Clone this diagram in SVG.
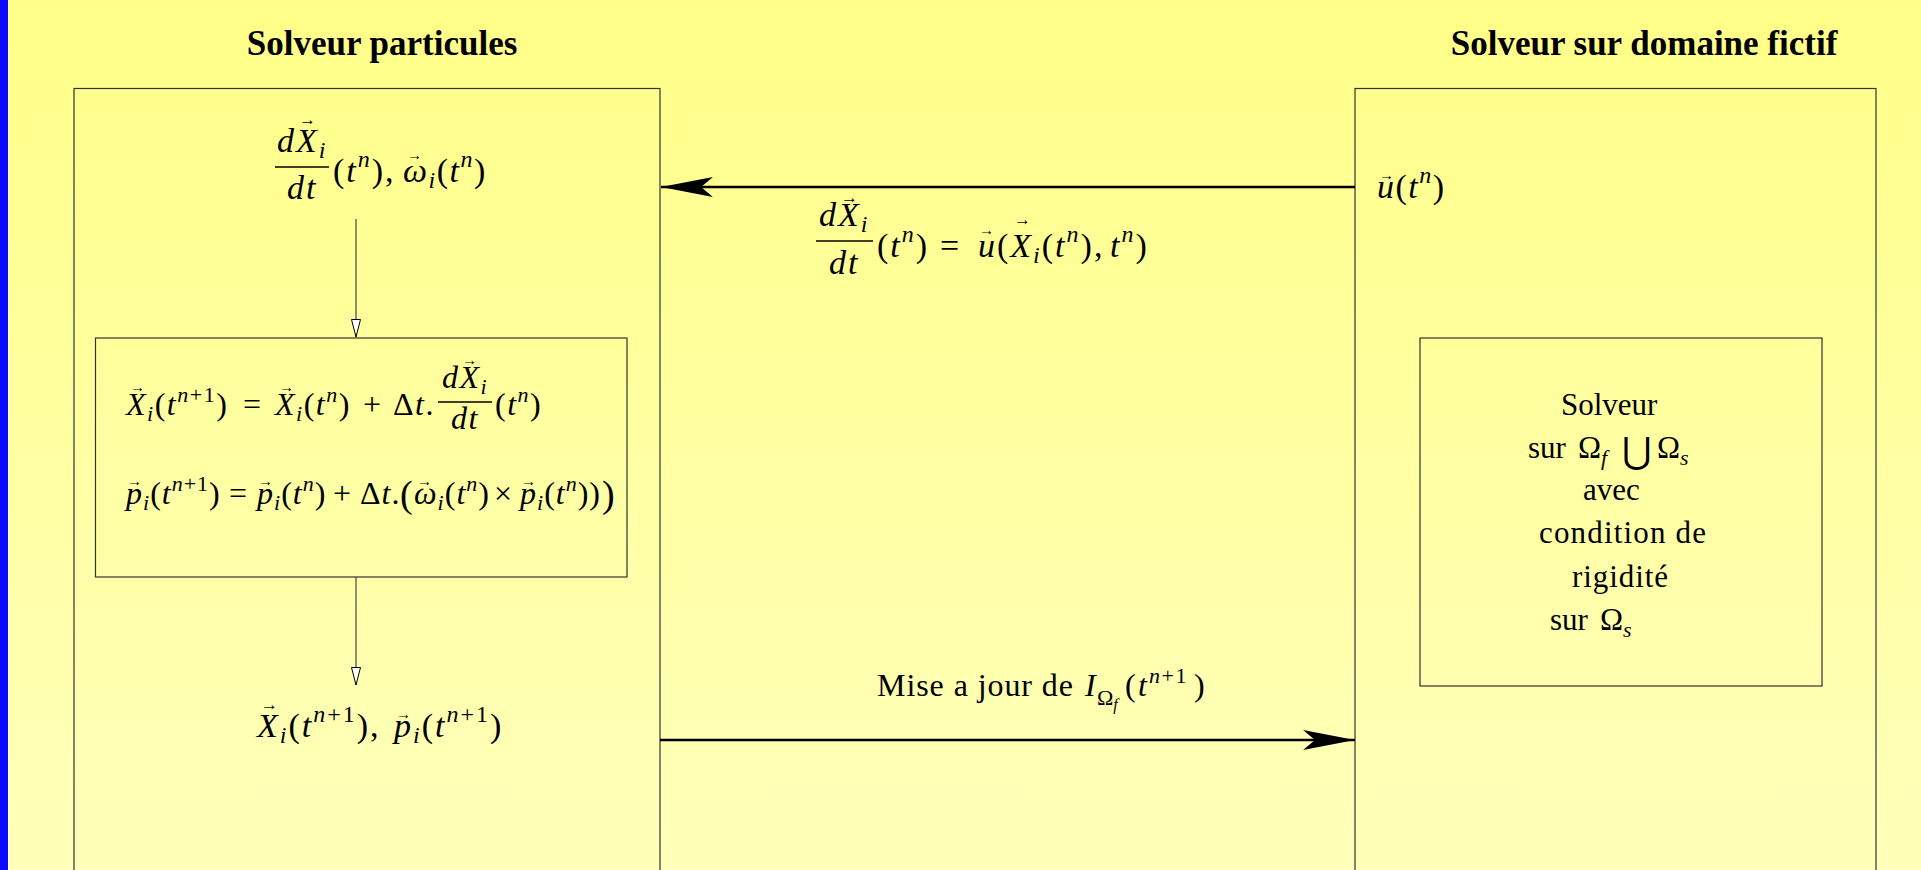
<svg xmlns="http://www.w3.org/2000/svg" width="1921" height="870" viewBox="0 0 1921 870">
<defs>
<linearGradient id="bg" x1="0" y1="0" x2="0" y2="1">
<stop offset="0" stop-color="#ffff88"/>
<stop offset="1" stop-color="#ffffbb"/>
</linearGradient>
<marker id="big" viewBox="0 0 52 22" refX="52" refY="11" markerWidth="52" markerHeight="22" markerUnits="userSpaceOnUse" orient="auto">
<path d="M0,1 L52,11 L0,21 L12,11 Z" fill="#000"/>
</marker>
<marker id="hollow" viewBox="0 0 19 11" refX="18" refY="5.5" markerWidth="19" markerHeight="11" markerUnits="userSpaceOnUse" orient="auto">
<path d="M0.5,1 L18,5.5 L0.5,10 Z" fill="#fff" stroke="#000" stroke-width="1"/>
</marker>
<style>
text{font-family:"Liberation Serif","DejaVu Serif",serif;fill:#000}
.t{font-weight:bold;font-size:35px;text-anchor:middle}
.i{font-style:italic}
.f34{font-size:34px;letter-spacing:2px}
.s24{font-size:24px}
.f32{font-size:32px;letter-spacing:1.5px}
.g32{font-size:32px;letter-spacing:1px}
.s22{font-size:22px}
.f31{font-size:31px}
.m32{font-size:32px}
.s16{font-size:16px}
.v{font-size:17px;letter-spacing:0}
.vs{font-size:15px;letter-spacing:0}
.box{fill:none;stroke:#333;stroke-width:1.2}
.bar{stroke:#000;stroke-width:1.5}
.thin{stroke:#333;stroke-width:1.1;fill:none}
.thick{stroke:#000;stroke-width:2.6;fill:none}
</style>
</defs>
<rect x="0" y="0" width="1921" height="870" fill="url(#bg)"/>
<rect x="0" y="0" width="8" height="870" fill="#0a0aff"/>

<text class="t" x="382" y="55">Solveur particules</text>
<text class="t" x="1644" y="55">Solveur sur domaine fictif</text>

<g id="solveur-particules">
<rect class="box" x="74" y="88.5" width="586" height="820"/>
<g id="vitesses">
<text class="f34"><tspan class="i" x="277" y="152">dX</tspan><tspan class="i s24" y="158">i</tspan><tspan class="i" x="287" y="199">dt</tspan><tspan x="333" y="182">(</tspan><tspan class="i">t</tspan><tspan class="i s24" y="167">n</tspan><tspan y="182">),</tspan><tspan class="i" x="403" y="182" style="letter-spacing:1.5px">ω</tspan><tspan class="i s24" y="188" style="letter-spacing:1.5px">i</tspan><tspan y="182" style="letter-spacing:1.5px">(</tspan><tspan class="i" style="letter-spacing:1.5px">t</tspan><tspan class="i s24" y="167" style="letter-spacing:1.5px">n</tspan><tspan y="182">)</tspan></text>
<line class="bar" x1="275" y1="167" x2="329" y2="167"/>
<text class="v" x="299" y="125">→</text>
<text class="vs" x="407" y="160">→</text>
</g>
<g id="integration">
<rect class="box" x="95.5" y="338" width="531.5" height="239"/>
<text class="f32"><tspan class="i" x="126" y="415">X</tspan><tspan class="i s22" y="421">i</tspan><tspan y="415">(</tspan><tspan class="i">t</tspan><tspan class="i s22" y="402">n</tspan><tspan class="s22">+1</tspan><tspan y="415">)</tspan><tspan x="243" y="415">=</tspan><tspan class="i" x="275" y="415">X</tspan><tspan class="i s22" y="421">i</tspan><tspan y="415">(</tspan><tspan class="i">t</tspan><tspan class="i s22" y="402">n</tspan><tspan y="415">)</tspan><tspan x="363" y="415">+</tspan><tspan x="393" y="415">Δ</tspan><tspan class="i">t</tspan><tspan>.</tspan><tspan class="i" x="442" y="388">dX</tspan><tspan class="i s22" y="394">i</tspan><tspan class="i" x="451" y="429">dt</tspan><tspan x="495" y="415">(</tspan><tspan class="i">t</tspan><tspan class="i s22" y="402">n</tspan><tspan y="415">)</tspan></text>
<line class="bar" x1="438" y1="402" x2="492" y2="402"/>
<text class="vs" x="130" y="392">→</text>
<text class="vs" x="279" y="392">→</text>
<text class="vs" x="462" y="365">→</text>
<text class="g32"><tspan class="i" x="126" y="504">p</tspan><tspan class="i s22" y="510">i</tspan><tspan y="504">(</tspan><tspan class="i">t</tspan><tspan class="i s22" y="491">n</tspan><tspan class="s22">+1</tspan><tspan y="504">)</tspan><tspan x="229" y="504">=</tspan><tspan class="i" x="257" y="504">p</tspan><tspan class="i s22" y="510">i</tspan><tspan y="504">(</tspan><tspan class="i">t</tspan><tspan class="i s22" y="491">n</tspan><tspan y="504">)</tspan><tspan x="333" y="504">+</tspan><tspan x="360" y="504">Δ</tspan><tspan class="i">t</tspan><tspan>.</tspan><tspan font-size="38" x="400" y="507">(</tspan><tspan class="i" x="414" y="504">ω</tspan><tspan class="i s22" y="510">i</tspan><tspan y="504">(</tspan><tspan class="i">t</tspan><tspan class="i s22" y="491">n</tspan><tspan y="504">)</tspan><tspan x="494" y="504">×</tspan><tspan class="i" x="520" y="504">p</tspan><tspan class="i s22" y="510">i</tspan><tspan y="504">(</tspan><tspan class="i">t</tspan><tspan class="i s22" y="491">n</tspan><tspan y="504">))</tspan><tspan font-size="38" x="602" y="507">)</tspan></text>
<text class="vs" x="127" y="486">→</text>
<text class="vs" x="258" y="486">→</text>
<text class="vs" x="417" y="486">→</text>
<text class="vs" x="521" y="486">→</text>
</g>
<g id="positions">
<text class="f34"><tspan class="i" x="257" y="737">X</tspan><tspan class="i s24" y="743">i</tspan><tspan y="737">(</tspan><tspan class="i">t</tspan><tspan class="i s24" y="722">n</tspan><tspan class="s24">+1</tspan><tspan y="737">),</tspan><tspan class="i" x="394" y="737">p</tspan><tspan class="i s24" y="743">i</tspan><tspan y="737">(</tspan><tspan class="i">t</tspan><tspan class="i s24" y="722">n</tspan><tspan class="s24">+1</tspan><tspan y="737">)</tspan></text>
<text class="v" x="261" y="710">→</text>
<text class="vs" x="396" y="719">→</text>
</g>
</g>

<g id="solveur-domaine-fictif">
<rect class="box" x="1355" y="88.5" width="521" height="820"/>
<g id="vitesse-fluide">
<text class="f34" style="letter-spacing:1.5px"><tspan class="i" x="1377" y="198">u</tspan><tspan>(</tspan><tspan class="i">t</tspan><tspan class="i s24" y="183">n</tspan><tspan y="198">)</tspan></text>
<text class="vs" x="1379" y="180">→</text>
</g>
<g id="solveur-global">
<rect class="box" x="1420" y="338" width="402" height="348"/>
<text class="f31" x="1561" y="415">Solveur</text>
<text class="f31"><tspan x="1528" y="458">sur</tspan><tspan x="1578" y="458">Ω</tspan><tspan class="i s22" y="465">f</tspan><tspan font-family="DejaVu Serif" font-size="36" x="1622" y="463">⋃</tspan><tspan x="1657" y="458">Ω</tspan><tspan class="i s22" y="465">s</tspan></text>
<text class="f31" x="1583" y="500">avec</text>
<text class="f31" x="1539" y="543" textLength="167">condition de</text>
<text class="f31" x="1572" y="587" textLength="96">rigidité</text>
<text class="f31"><tspan x="1550" y="630">sur</tspan><tspan x="1600" y="630">Ω</tspan><tspan class="i s22" y="637">s</tspan></text>
</g>
</g>

<g id="connectors">
<line class="thin" x1="356" y1="219" x2="356" y2="337" marker-end="url(#hollow)"/>
<line class="thin" x1="356" y1="577" x2="356" y2="685" marker-end="url(#hollow)"/>
<line class="thick" x1="1355" y1="187" x2="661" y2="187" marker-end="url(#big)"/>
<line class="thick" x1="660" y1="740" x2="1355" y2="740" marker-end="url(#big)"/>
<g id="label-vitesse">
<text class="f34"><tspan class="i" x="819" y="226">dX</tspan><tspan class="i s24" y="232">i</tspan><tspan class="i" x="829" y="274">dt</tspan><tspan x="877" y="257">(</tspan><tspan class="i">t</tspan><tspan class="i s24" y="242">n</tspan><tspan y="257">)</tspan><tspan x="940" y="257">=</tspan><tspan class="i" x="978" y="257">u</tspan><tspan>(</tspan><tspan class="i">X</tspan><tspan class="i s24" y="263">i</tspan><tspan y="257">(</tspan><tspan class="i">t</tspan><tspan class="i s24" y="242">n</tspan><tspan y="257">),</tspan><tspan class="i" x="1110" y="257">t</tspan><tspan class="i s24" y="242">n</tspan><tspan y="257">)</tspan></text>
<line class="bar" x1="816" y1="241" x2="873" y2="241"/>
<text class="v" x="841" y="203">→</text>
<text class="vs" x="979" y="235">→</text>
<text class="v" x="1014" y="225">→</text>
</g>
<g id="label-maj">
<text class="m32"><tspan x="877" y="696" textLength="196">Mise a jour de</tspan><tspan class="i" x="1085" y="696">I</tspan><tspan class="s22" x="1097" y="705">Ω</tspan><tspan class="i s16" y="710">f</tspan><tspan x="1125" y="696">(</tspan><tspan class="i" x="1138">t</tspan><tspan class="i s22" x="1149" y="683" style="letter-spacing:1.5px">n</tspan><tspan class="s22" style="letter-spacing:1.5px">+1</tspan><tspan x="1194" y="696">)</tspan></text>
</g>
</g>
</svg>
